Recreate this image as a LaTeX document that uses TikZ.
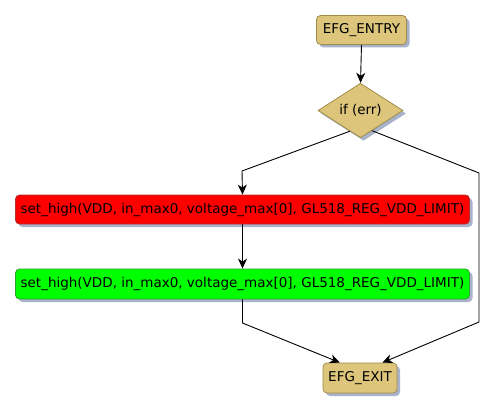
\documentclass[tikz,border=0pt]{standalone}
\usepackage{fontspec}
\setmainfont{DejaVu Sans}
\usetikzlibrary{shapes.geometric,shadows,arrows.meta,calc}
\definecolor{tan}{HTML}{DDC67C}
\definecolor{tanb}{HTML}{A08C4A}
\definecolor{shad}{HTML}{A8B3CB}
\definecolor{redb}{HTML}{B03030}
\definecolor{greenb}{HTML}{30A030}
\tikzset{
  box/.style={draw=#1, line width=0.8pt, rounded corners=4pt, inner sep=0pt,
    font=\fontsize{13.5}{15}\selectfont,
    drop shadow={shadow xshift=3pt, shadow yshift=-3pt, fill=shad, opacity=1}},
  conn/.style={line width=0.9pt, draw=black},
  arr/.style={conn, -{Stealth[length=10pt,width=9pt,inset=3pt]}}
}
\begin{document}
\begin{tikzpicture}[x=1pt,y=-1pt]
\useasboundingbox (0,0) rectangle (495,412);
\node[box=tanb, fill=tan, minimum width=90pt, minimum height=29pt] (entry) at (361.5,30) {EFG\_ENTRY};
\node[box=tanb, fill=tan, diamond, rounded corners=0pt, minimum width=85pt, minimum height=41pt, inner sep=0pt] (dia) at (360.5,110.5) {if (err)};
\node[box=redb, fill=red, minimum width=454pt, minimum height=29pt] (red) at (242.5,209.5) {set\_high(VDD, in\_max0, voltage\_max[0], GL518\_REG\_VDD\_LIMIT)};
\node[box=greenb, fill=green, minimum width=454pt, minimum height=30pt] (green) at (242.5,284) {set\_high(VDD, in\_max0, voltage\_max[0], GL518\_REG\_VDD\_LIMIT)};
\node[box=tanb, fill=tan, minimum width=74pt, minimum height=30pt] (exit) at (360,378) {EFG\_EXIT};
\coordinate (l1) at (242,171);
\coordinate (r1) at (479,173);
\coordinate (r2) at (479,322);
\coordinate (g1) at (242.5,323);
\draw[arr] (entry.south) -- (dia.north);
\draw[arr] ($(dia.south)!0.25!(dia.west)$) -- (l1) -- (red.north);
\draw[arr] (red.south) -- (green.north);
\draw[arr] (green.south) -- (g1) -- ($(exit.north)!0.54!(exit.north west)$);
\draw[arr] ($(dia.south)!0.27!(dia.east)$) -- (r1) -- (r2) -- ($(exit.north)!0.6!(exit.north east)$);
\end{tikzpicture}
\end{document}
